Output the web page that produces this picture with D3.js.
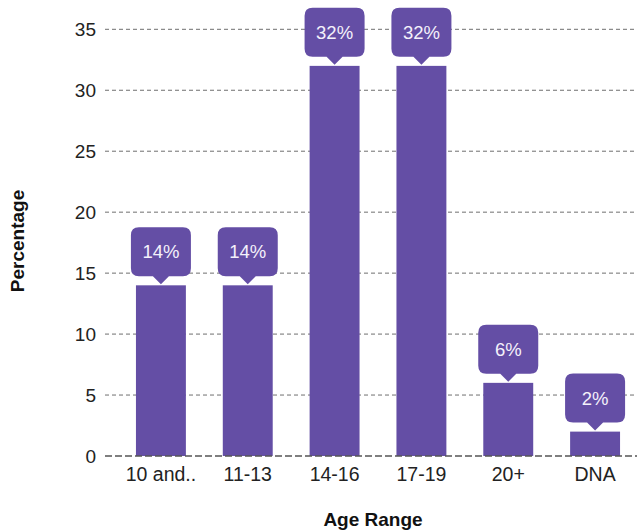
<!DOCTYPE html>
<html>
<head>
<meta charset="utf-8">
<script src="https://cdn.jsdelivr.net/npm/d3@7"></script>
<style>
  html, body { margin: 0; padding: 0; background: #ffffff; }
  svg { display: block; font-family: "Liberation Sans", Arial, sans-serif; }
</style>
</head>
<body>
<svg id="chart" width="637" height="531"></svg>
<script>
// Age ranges and share of respondents (%)
const categories = ["10 and..", "11-13", "14-16", "17-19", "20+", "DNA"];
const percentages = [14, 14, 32, 32, 6, 2];
const yTicks = [0, 5, 10, 15, 20, 25, 30, 35];

const barColor = "#644ea5";
const svg = d3.select("#chart");

const x = d3.scaleBand()
  .domain(categories)
  .range([117.5, 638.5])
  .paddingInner(0.425)
  .paddingOuter(0.2125);

const y = d3.scaleLinear()
  .domain([0, 35])
  .range([456, 29.3]);

const gridLeft = 105, gridRight = 637;

// Horizontal dashed gridlines
svg.append("g")
  .selectAll("line")
  .data(yTicks.filter(d => d !== 0))
  .join("line")
  .attr("x1", gridLeft).attr("x2", gridRight)
  .attr("y1", d => y(d)).attr("y2", d => y(d))
  .attr("stroke", "#6f6f6f")
  .attr("stroke-width", 1)
  .attr("stroke-dasharray", "4,3");

// Bars
svg.append("g")
  .selectAll("rect")
  .data(percentages)
  .join("rect")
  .attr("x", (d, i) => x(categories[i]))
  .attr("y", d => y(d))
  .attr("width", x.bandwidth())
  .attr("height", d => y(0) - y(d))
  .attr("fill", barColor);

// Baseline
svg.append("line")
  .attr("x1", gridLeft).attr("x2", gridRight)
  .attr("y1", y(0)).attr("y2", y(0))
  .attr("stroke", "#555555")
  .attr("stroke-width", 1.6)
  .attr("stroke-dasharray", "7,3");

// Y axis tick labels
const yAxis = d3.axisLeft(y).tickValues(yTicks).tickSize(0).tickPadding(0);
const yg = svg.append("g")
  .attr("transform", `translate(96,0)`)
  .call(yAxis);
yg.select(".domain").remove();
yg.selectAll("text")
  .attr("font-size", 19)
  .attr("fill", "#222")
  .attr("font-family", "\"Liberation Sans\", Arial, sans-serif");

// X axis tick labels
const xAxis = d3.axisBottom(x).tickSize(0).tickPadding(0);
const xg = svg.append("g")
  .attr("transform", `translate(0,${y(0) + 7})`)
  .call(xAxis);
xg.select(".domain").remove();
xg.selectAll("text")
  .attr("font-size", 19.5)
  .attr("fill", "#222")
  .attr("dy", "0.9em")
  .attr("font-family", "\"Liberation Sans\", Arial, sans-serif");

// Value callouts: rounded box with a pointer down to the bar top
const boxW = 60, boxH = 49, r = 8, tipH = 8, tipW = 8;
function calloutPath(cx, tipY) {
  const bottom = tipY - tipH;
  const top = bottom - boxH;
  const l = cx - boxW / 2, rr = cx + boxW / 2;
  return [
    `M${l + r},${top}`,
    `H${rr - r}`,
    `Q${rr},${top} ${rr},${top + r}`,
    `V${bottom - r}`,
    `Q${rr},${bottom} ${rr - r},${bottom}`,
    `H${cx + tipW}`,
    `L${cx},${tipY}`,
    `L${cx - tipW},${bottom}`,
    `H${l + r}`,
    `Q${l},${bottom} ${l},${bottom - r}`,
    `V${top + r}`,
    `Q${l},${top} ${l + r},${top}`,
    "Z"
  ].join(" ");
}

const callouts = svg.append("g")
  .selectAll("g")
  .data(percentages)
  .join("g");

callouts.append("path")
  .attr("d", (d, i) => calloutPath(x(categories[i]) + x.bandwidth() / 2, y(d) - 1))
  .attr("fill", barColor);

callouts.append("text")
  .attr("x", (d, i) => x(categories[i]) + x.bandwidth() / 2)
  .attr("y", d => y(d) - 1 - tipH - boxH / 2)
  .attr("dy", "0.35em")
  .attr("text-anchor", "middle")
  .attr("font-size", 18.5)
  .attr("fill", "#f4f1fb")
  .text(d => d + "%");

// Axis titles
svg.append("text")
  .attr("transform", `translate(24,241) rotate(-90)`)
  .attr("text-anchor", "middle")
  .attr("font-size", 19)
  .attr("font-weight", "bold")
  .attr("fill", "#111")
  .text("Percentage");

svg.append("text")
  .attr("x", 373)
  .attr("y", 526)
  .attr("text-anchor", "middle")
  .attr("font-size", 19)
  .attr("font-weight", "bold")
  .attr("fill", "#111")
  .text("Age Range");
</script>
</body>
</html>
